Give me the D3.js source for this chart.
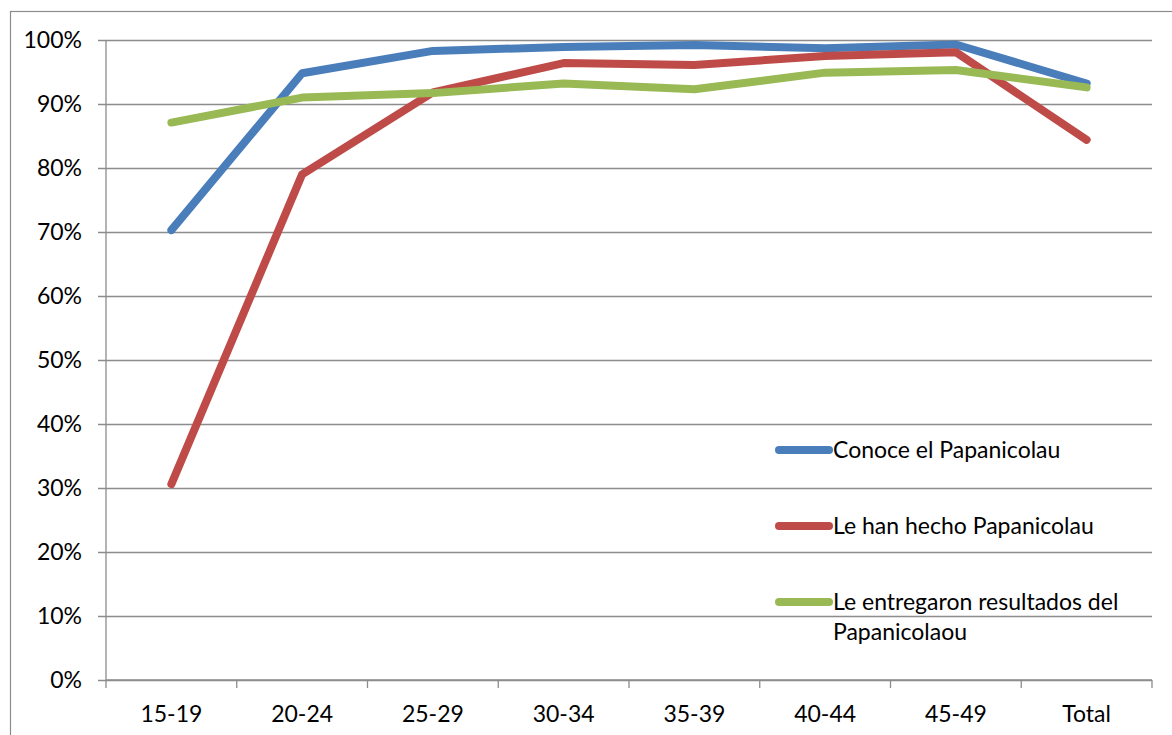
<!DOCTYPE html>
<html>
<head>
<meta charset="utf-8">
<script src="https://cdn.jsdelivr.net/npm/d3@7"></script>
<style>
  html, body { margin: 0; padding: 0; background: #fff; }
  svg { display: block; }
  text { font-family: Lato, "Liberation Sans", sans-serif; fill: #000; }
</style>
</head>
<body>
<svg id="chart" width="1172" height="735"></svg>
<script>
// Age groups and the share of women (%) for each indicator
const categories = ["15-19", "20-24", "25-29", "30-34", "35-39", "40-44", "45-49", "Total"];
const conoce     = [70.3, 94.8, 98.3, 98.9, 99.2, 98.7, 99.3, 93.2];
const hecho      = [30.6, 79.0, 91.8, 96.4, 96.1, 97.5, 98.1, 84.4];
const entregaron = [87.1, 91.0, 91.7, 93.2, 92.3, 94.9, 95.3, 92.6];
const yTicks     = [0, 10, 20, 30, 40, 50, 60, 70, 80, 90, 100];

const series = [
  { name: ["Conoce el Papanicolau"], values: conoce, color: "#4A7EBB" },
  { name: ["Le han hecho Papanicolau"], values: hecho, color: "#BE4B48" },
  { name: ["Le entregaron resultados del", "Papanicolaou"], values: entregaron, color: "#98B954" }
];

const svg = d3.select("#chart");
const plot = { left: 106, right: 1152, top: 40, bottom: 680 };
const gridColor = "#8c8c8c";
const fontSize = 23;

// Outer chart frame
svg.append("rect")
  .attr("x", 10.5).attr("y", 11.5)
  .attr("width", 1300).attr("height", 900)
  .attr("fill", "none").attr("stroke", gridColor).attr("stroke-width", 1.2);

const x = d3.scaleBand().domain(categories).range([plot.left, plot.right]).padding(0);
const y = d3.scaleLinear().domain([0, 100]).range([plot.bottom, plot.top]);

// Horizontal gridlines with small tick stubs on the left
const yAxis = d3.axisLeft(y)
  .tickValues(yTicks)
  .tickSize(-(plot.right - plot.left))
  .tickSizeOuter(0)
  .tickPadding(24)
  .tickFormat(d => d + "%");

const gy = svg.append("g")
  .attr("transform", `translate(${plot.left},0)`)
  .call(yAxis);
gy.select(".domain").remove();
gy.selectAll(".tick line")
  .attr("x1", -8)
  .attr("stroke", gridColor).attr("stroke-width", 1.3);
gy.selectAll(".tick text")
  .attr("font-size", fontSize).attr("font-family", "Lato, sans-serif");

// Vertical axis line
svg.append("line")
  .attr("x1", plot.left).attr("x2", plot.left)
  .attr("y1", plot.top).attr("y2", plot.bottom)
  .attr("stroke", gridColor).attr("stroke-width", 1.3);

// Category axis: ticks sit on the band boundaries
const bounds = categories.map(c => x(c)).concat([x(categories[categories.length - 1]) + x.bandwidth()]);
const gx = svg.append("g");
gx.append("line")
  .attr("x1", plot.left).attr("x2", plot.right)
  .attr("y1", plot.bottom).attr("y2", plot.bottom)
  .attr("stroke", gridColor).attr("stroke-width", 1.3);
gx.selectAll("line.tk").data(bounds).join("line")
  .attr("class", "tk")
  .attr("x1", d => d).attr("x2", d => d)
  .attr("y1", plot.bottom).attr("y2", plot.bottom + 8)
  .attr("stroke", gridColor).attr("stroke-width", 1.3);
gx.selectAll("text").data(categories).join("text")
  .attr("x", d => x(d) + x.bandwidth() / 2)
  .attr("y", 722)
  .attr("text-anchor", "middle")
  .attr("font-size", fontSize)
  .text(d => d);

// Series lines
const line = d3.line()
  .x((d, i) => x(categories[i]) + x.bandwidth() / 2)
  .y(d => y(d));

svg.append("g").selectAll("path").data(series).join("path")
  .attr("d", s => line(s.values))
  .attr("fill", "none")
  .attr("stroke", s => s.color)
  .attr("stroke-width", 8)
  .attr("stroke-linecap", "round")
  .attr("stroke-linejoin", "round");

// Legend
const legendY = [450, 526, 602];
const lg = svg.append("g").selectAll("g").data(series).join("g")
  .attr("transform", (s, i) => `translate(0,${legendY[i]})`);
lg.append("line")
  .attr("x1", 779).attr("x2", 829)
  .attr("y1", 0).attr("y2", 0)
  .attr("stroke", s => s.color)
  .attr("stroke-width", 8)
  .attr("stroke-linecap", "round");
lg.append("text")
  .attr("x", 833)
  .attr("y", 8)
  .attr("font-size", fontSize)
  .selectAll("tspan").data(s => s.name).join("tspan")
  .attr("x", 833)
  .attr("dy", (d, i) => i === 0 ? 0 : 30)
  .text(d => d);
</script>
</body>
</html>
